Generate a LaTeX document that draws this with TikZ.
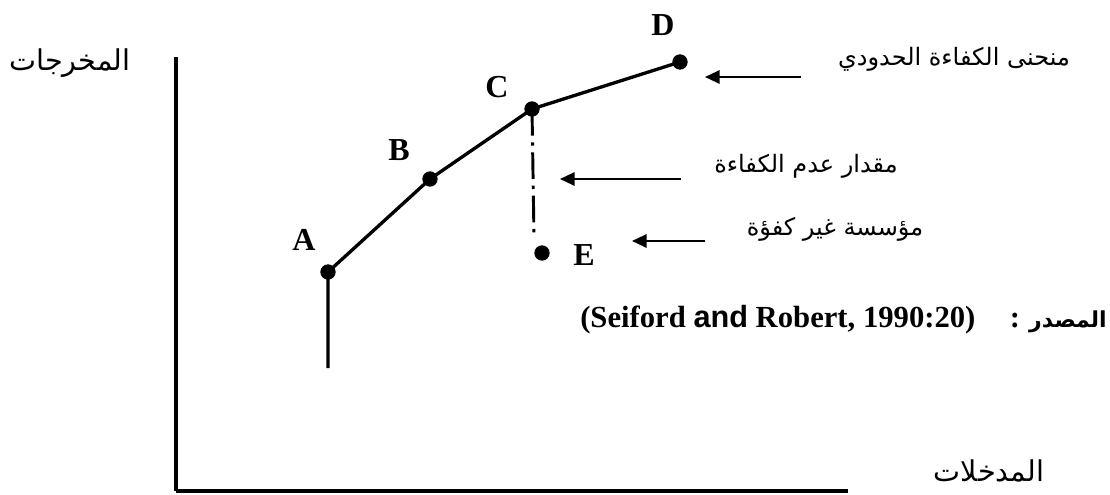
\documentclass[tikz,border=0pt]{standalone}
\usepackage{fontspec}
\usetikzlibrary{arrows.meta}
\setmainfont{Liberation Serif}
\newfontfamily\arabicfont[Script=Arabic]{DejaVu Sans}
\newfontfamily\arialfont{Liberation Sans}
\TeXXeTstate=1
\tikzset{
  frontier/.style={line width=2.5pt, line join=round},
  axisline/.style={line width=2.4pt},
  pointdot/.style={circle, fill=black, inner sep=0pt, minimum size=11.5pt},
  ptlabel/.style={font=\bfseries\fontsize{24}{28}\selectfont},
  pointer/.style={line width=1.6pt, -{Triangle[length=11pt,width=10pt]}},
  artext/.style={font=\arabicfont\fontsize{18}{21}\selectfont},
  axtext/.style={font=\arabicfont\fontsize{21.5}{25}\selectfont},
  gapline/.style={line width=2.2pt, dash pattern=on 20pt off 5pt on 2.5pt off 5pt}
}
\begin{document}
\begin{tikzpicture}[x=0.75pt, y=-0.75pt]
  \useasboundingbox (0,0) rectangle (1110,495);

  % axes
  \coordinate (yTop) at (176,57);
  \coordinate (origin) at (176,491);
  \coordinate (xEnd) at (848,491);
  \draw[axisline] (yTop) -- (origin);
  \draw[line width=3pt] (origin) -- (xEnd);

  % axis titles
  \node[axtext] (ylab) at (70,63) {\beginR المخرجات\endR};
  \node[axtext] (xlab) at (989,471) {\beginR المدخلات\endR};

  % frontier points
  \node[pointdot] (A) at (328,272) {};
  \node[pointdot] (B) at (430,179) {};
  \node[pointdot] (C) at (532,109) {};
  \node[pointdot] (D) at (680,62) {};
  \node[pointdot] (E) at (542,253) {};
  \coordinate (Abase) at (328,368);
  \coordinate (Cfoot) at (534,237);

  \draw[frontier] (Abase) -- (A.center) -- (B.center) -- (C.center) -- (D.center);
  \draw[gapline] (C.center) -- (Cfoot);

  % point labels
  \node[ptlabel] (lA) at (304,240) {A};
  \node[ptlabel] (lB) at (399,150) {B};
  \node[ptlabel] (lC) at (497,87) {C};
  \node[ptlabel] (lD) at (663,25) {D};
  \node[ptlabel] (lE) at (584,255) {E};

  % annotations with pointers
  \node[artext] (t1) at (954,59) {\beginR منحنى الكفاءة الحدودي\endR};
  \node[artext] (t2) at (806,166) {\beginR مقدار عدم  الكفاءة\endR};
  \node[artext] (t3) at (835,229) {\beginR مؤسسة غير كفؤة\endR};

  \coordinate (p1s) at (801,77);
  \coordinate (p1e) at (705,77);
  \coordinate (p2s) at (681,179);
  \coordinate (p2e) at (560,179);
  \coordinate (p3s) at (705,241);
  \coordinate (p3e) at (632,241);
  \draw[pointer] (p1s) -- (p1e);
  \draw[pointer] (p2s) -- (p2e);
  \draw[pointer] (p3s) -- (p3e);

  % source
  \node[anchor=base west, inner sep=0pt] (src) at (580,328)
    {\bfseries\fontsize{23}{27}\selectfont (Seiford {\arialfont and} Robert, 1990:20)};
  \node[anchor=base, inner sep=0pt] (colon) at (1015,328)
    {\bfseries\fontsize{23}{27}\selectfont :};
  \node[anchor=base east, inner sep=0pt] (srcar) at (1107,328)
    {\arabicfont\bfseries\fontsize{16.5}{20}\selectfont\beginR المصدر\endR};
\end{tikzpicture}
\end{document}
